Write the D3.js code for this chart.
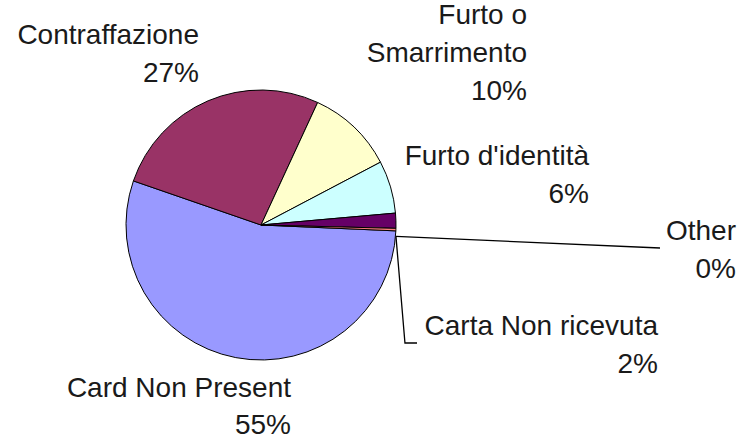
<!DOCTYPE html>
<html>
<head>
<meta charset="utf-8">
<script src="https://cdn.jsdelivr.net/npm/d3@7"></script>
<style>
  body { margin: 0; background: #fff; }
  svg { display: block; }
  text { font-family: "Liberation Sans", Arial, sans-serif; font-size: 28px; fill: #1a1a1a; }
</style>
</head>
<body>
<div id="chart"></div>
<script>
// slices in clockwise order, starting just below 3 o'clock
const categories = ["Card Non Present", "Contraffazione", "Furto o Smarrimento", "Furto d'identità", "Carta Non ricevuta", "Other"];
const values = [54.6, 26.6, 10.4, 6.3, 1.8, 0.3];
const colors = ["#9999ff", "#993366", "#ffffcc", "#ccffff", "#660066", "#ff8080"];

// label text lines (the percentage is appended from the value)
const labelLines = [["Card Non Present"], ["Contraffazione"], ["Furto o", "Smarrimento"], ["Furto d'identità"], ["Carta Non ricevuta"], ["Other"]];

const width = 742,
    height = 439;
const cx = 261,
    cy = 225,
    radius = 135;

// label layout: right edge x, first baseline y
const labelPos = [
    { x: 291, y: 397 },
    { x: 199, y: 44 },
    { x: 527, y: 24 },
    { x: 589, y: 165 },
    { x: 658, y: 335 },
    { x: 736, y: 240 },
];
const lineStep = 38;

const data = categories.map((c, i) => ({ category: c, value: values[i], color: colors[i], lines: labelLines[i], pos: labelPos[i] }));

const svg = d3
    .select("#chart")
    .append("svg")
    .attr("width", width)
    .attr("height", height)
    .attr("viewBox", [0, 0, width, height]);

const pie = d3
    .pie()
    .sort(null)
    .value((d) => d.value)
    .startAngle((92.5 * Math.PI) / 180)
    .endAngle((92.5 * Math.PI) / 180 + 2 * Math.PI);

const arc = d3.arc().innerRadius(0).outerRadius(radius);

const arcs = pie(data);

const g = svg.append("g").attr("transform", "translate(" + cx + "," + cy + ")");

g.selectAll("path")
    .data(arcs)
    .enter()
    .append("path")
    .attr("d", arc)
    .attr("fill", (d) => d.data.color)
    .attr("stroke", "#000")
    .attr("stroke-width", 1);

// leader lines for the two thin slices
const edge = (a) => [cx + radius * Math.sin(a), cy - radius * Math.cos(a) + 8];
const other = arcs[5];
const p0 = edge(other.startAngle);
const leaders = [
    [p0, [labelPos[5].x - 76, labelPos[5].y + 8]],
    [p0, [p0[0] + 9, labelPos[4].y + 8], [labelPos[4].x - 241, labelPos[4].y + 8]],
];
svg.selectAll("polyline")
    .data(leaders)
    .enter()
    .append("polyline")
    .attr("points", (d) => d.map((p) => p.join(",")).join(" "))
    .attr("fill", "none")
    .attr("stroke", "#000")
    .attr("stroke-width", 1.3);

// labels
const labels = svg
    .selectAll("text.label")
    .data(arcs)
    .enter()
    .append("text")
    .attr("class", "label")
    .attr("text-anchor", "end");

labels
    .selectAll("tspan")
    .data((d) => d.data.lines.concat([Math.round(d.data.value) + "%"]).map((t) => ({ t, pos: d.data.pos })))
    .enter()
    .append("tspan")
    .attr("x", (d) => d.pos.x)
    .attr("y", (d, i) => d.pos.y + i * (d.pos.y > 380 ? 37 : lineStep))
    .text((d) => d.t);
</script>
</body>
</html>
